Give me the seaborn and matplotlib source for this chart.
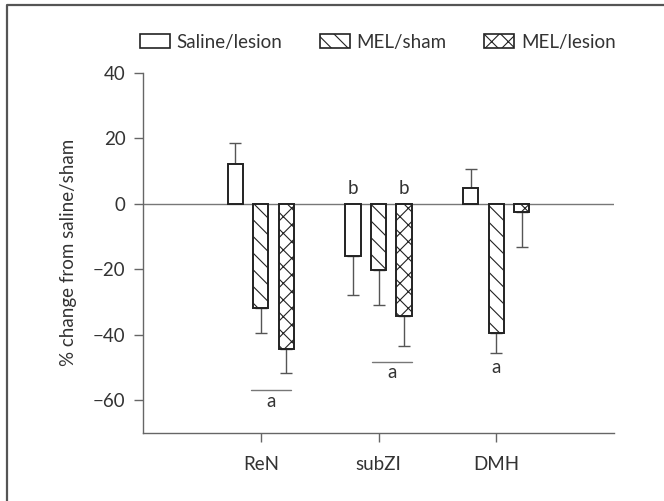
import numpy as np
import pandas as pd
import matplotlib
matplotlib.use('Agg')
import matplotlib.pyplot as plt
from matplotlib.patches import Patch
from matplotlib.lines import Line2D
import seaborn as sns

# values
regions = ['ReN', 'subZI', 'DMH']
groups = ['Saline/lesion', 'MEL/sham', 'MEL/lesion']
saline_lesion = [12.0, -15.9, 4.8]
mel_sham = [-31.8, -20.2, -39.6]
mel_lesion = [-44.2, -34.2, -2.6]
saline_lesion_err = [6.6, 11.9, 5.7]
mel_sham_err = [7.8, 10.6, 5.9]
mel_lesion_err = [7.5, 9.2, 10.5]

# significance letters: (x, y, text)
letters_x = [0.09, 1.113, 2.0, 0.782, 1.218]
letters_y = [-60.3, -51.4, -49.9, 4.6, 4.6]
letters_txt = ['a', 'a', 'a', 'b', 'b']
# horizontal lines above the "a" marks
sig_x0 = [-0.079, 0.943]
sig_x1 = [0.26, 1.283]
sig_y = [-57.0, -48.2]

df = pd.DataFrame({
    'region': regions * 3,
    'group': [g for g in groups for _ in regions],
    'value': saline_lesion + mel_sham + mel_lesion,
    'err': saline_lesion_err + mel_sham_err + mel_lesion_err,
})

sns.set_style('ticks')
plt.rcParams['font.family'] = ['Lato', 'DejaVu Sans']
plt.rcParams['hatch.linewidth'] = 0.8
text_col = '#333333'
grey = '#666666'
fs = 13.5

fig = plt.figure(figsize=(6.64, 5.01), dpi=100)
ax = fig.add_axes([0.2154, 0.1357, 0.7093, 0.7192])

sns.barplot(data=df, x='region', y='value', hue='group', order=regions,
            hue_order=groups, errorbar=None, width=0.65, gap=0.41,
            palette=['white'] * 3, edgecolor='#222222', linewidth=1.4,
            legend=False, ax=ax, zorder=3)

hatches = ['', '\\\\', 'xx']
for cont, hatch, g in zip(ax.containers, hatches, groups):
    sub = df[df['group'] == g].set_index('region').loc[regions]
    xs = []
    for bar in cont:
        bar.set_hatch(hatch)
        xs.append(bar.get_x() + bar.get_width() / 2)
    vals = sub['value'].values
    errs = sub['err'].values
    lower = np.where(vals < 0, errs, 0)
    upper = np.where(vals >= 0, errs, 0)
    ax.errorbar(xs, vals, yerr=[lower, upper], fmt='none', ecolor='#555555',
                elinewidth=1.0, capsize=4, capthick=1.0, zorder=2)

ax.axhline(0, color='#777777', lw=1.0, zorder=1)

for x0, x1, y in zip(sig_x0, sig_x1, sig_y):
    ax.plot([x0, x1], [y, y], color='#777777', lw=1.0)
for x, y, t in zip(letters_x, letters_y, letters_txt):
    ax.text(x, y, t, ha='center', va='center', fontsize=fs, color=text_col)

ax.set_xlim(-1, 3)
ax.set_ylim(-70, 40)
ax.set_yticks([-60, -40, -20, 0, 20, 40])
ax.set_xlabel('')
ax.set_ylabel('% change from saline/sham', fontsize=fs, color=text_col)
ax.yaxis.set_label_coords(-0.140, 0.5)
sns.despine(ax=ax)
for s in ['left', 'bottom']:
    ax.spines[s].set_color(grey)
    ax.spines[s].set_linewidth(1.0)
ax.tick_params(axis='both', length=6.5, width=1.0, color=grey,
               labelsize=fs, labelcolor=text_col)
ax.tick_params(axis='y', pad=6)
ax.tick_params(axis='x', pad=10)

handles = [Patch(facecolor='white', edgecolor='#222222', hatch=h, linewidth=1.2)
           for h in hatches]
fig.legend(handles, groups, loc='center', bbox_to_anchor=(0.569, 0.916),
           ncol=3, frameon=False, fontsize=fs, handlelength=1.58,
           handleheight=0.8, handletextpad=0.37, columnspacing=2.0,
           labelcolor=text_col)

# partial outer frame of the figure panel
fig.add_artist(Line2D([7 / 664, 7 / 664, 1.0], [0.0, 1 - 5 / 501, 1 - 5 / 501],
                      transform=fig.transFigure, color='#555555', lw=1.6))

fig.savefig('out.png', dpi=100)
